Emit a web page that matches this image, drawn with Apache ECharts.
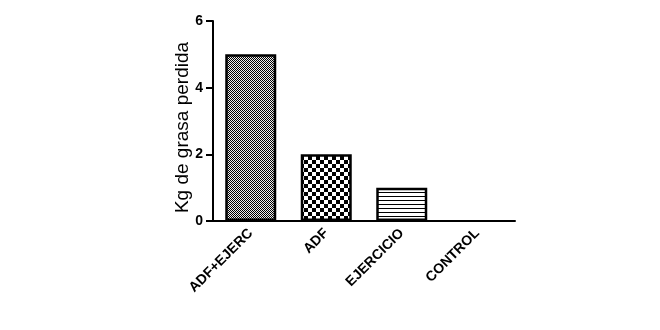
<!DOCTYPE html>
<html>
<head>
<meta charset="utf-8">
<script src="https://cdn.jsdelivr.net/npm/echarts@6/dist/echarts.min.js"></script>
<style>
  html, body { margin: 0; padding: 0; background: #fff; }
  #chart { width: 660px; height: 330px; }
</style>
</head>
<body>
<div id="chart"></div>
<script>
const categories = ['ADF+EJERC', 'ADF', 'EJERCICIO', 'CONTROL'];
const values = [5, 2, 1, 0];
const yTicks = [0, 2, 4, 6];

// relleno de cada barra
function makePattern(kind) {
  const c = document.createElement('canvas');
  const ctx = c.getContext('2d');
  if (kind === 'fine') {
    c.width = 2; c.height = 2;
    ctx.fillStyle = '#eee'; ctx.fillRect(0, 0, 2, 2);
    ctx.fillStyle = '#000';
    ctx.fillRect(0, 0, 1, 1); ctx.fillRect(1, 1, 1, 1);
  } else if (kind === 'checker') {
    c.width = 8; c.height = 8;
    ctx.fillStyle = '#fff'; ctx.fillRect(0, 0, 8, 8);
    ctx.fillStyle = '#000';
    ctx.fillRect(0, 0, 4, 4); ctx.fillRect(4, 4, 4, 4);
  } else {
    c.width = 4; c.height = 4;
    ctx.fillStyle = '#fff'; ctx.fillRect(0, 0, 4, 4);
    ctx.fillStyle = '#000'; ctx.fillRect(0, 0, 4, 1);
  }
  return { image: c, repeat: 'repeat' };
}
const patterns = ['fine', 'checker', 'lines', 'lines'];

const chart = echarts.init(document.getElementById('chart'), null, { renderer: 'canvas' });
const font = 'Arial, "Liberation Sans", sans-serif';

chart.setOption({
  animation: false,
  grid: { left: 213, right: 145, top: 21, bottom: 109 },
  xAxis: {
    type: 'category',
    data: categories,
    axisLine: { lineStyle: { color: '#000', width: 2 } },
    axisTick: { alignWithLabel: true, length: 6, lineStyle: { color: '#000', width: 2 } },
    axisLabel: {
      rotate: 45, margin: 10, color: '#000', fontWeight: 'bold',
      fontSize: 14, fontFamily: font
    }
  },
  yAxis: {
    type: 'value',
    min: yTicks[0], max: yTicks[yTicks.length - 1], interval: 2,
    name: 'Kg de grasa perdida',
    nameLocation: 'middle',
    nameGap: 21,
    nameMoveOverlap: false,
    nameTextStyle: { color: '#000', fontSize: 19, fontFamily: font, padding: [5, 13, 0, 0] },
    splitLine: { show: false },
    axisLine: { show: true, lineStyle: { color: '#000', width: 2 } },
    axisTick: { show: true, length: 7, lineStyle: { color: '#000', width: 2 } },
    axisLabel: { color: '#000', fontWeight: 'bold', fontSize: 14, fontFamily: font, margin: 10 }
  },
  series: [{
    type: 'bar',
    barWidth: 51,
    data: values.map((v, i) => ({
      value: v,
      itemStyle: {
        color: makePattern(patterns[i]),
        borderColor: '#000',
        borderWidth: v > 0 ? 2.5 : 0
      }
    }))
  }]
});
</script>
</body>
</html>
